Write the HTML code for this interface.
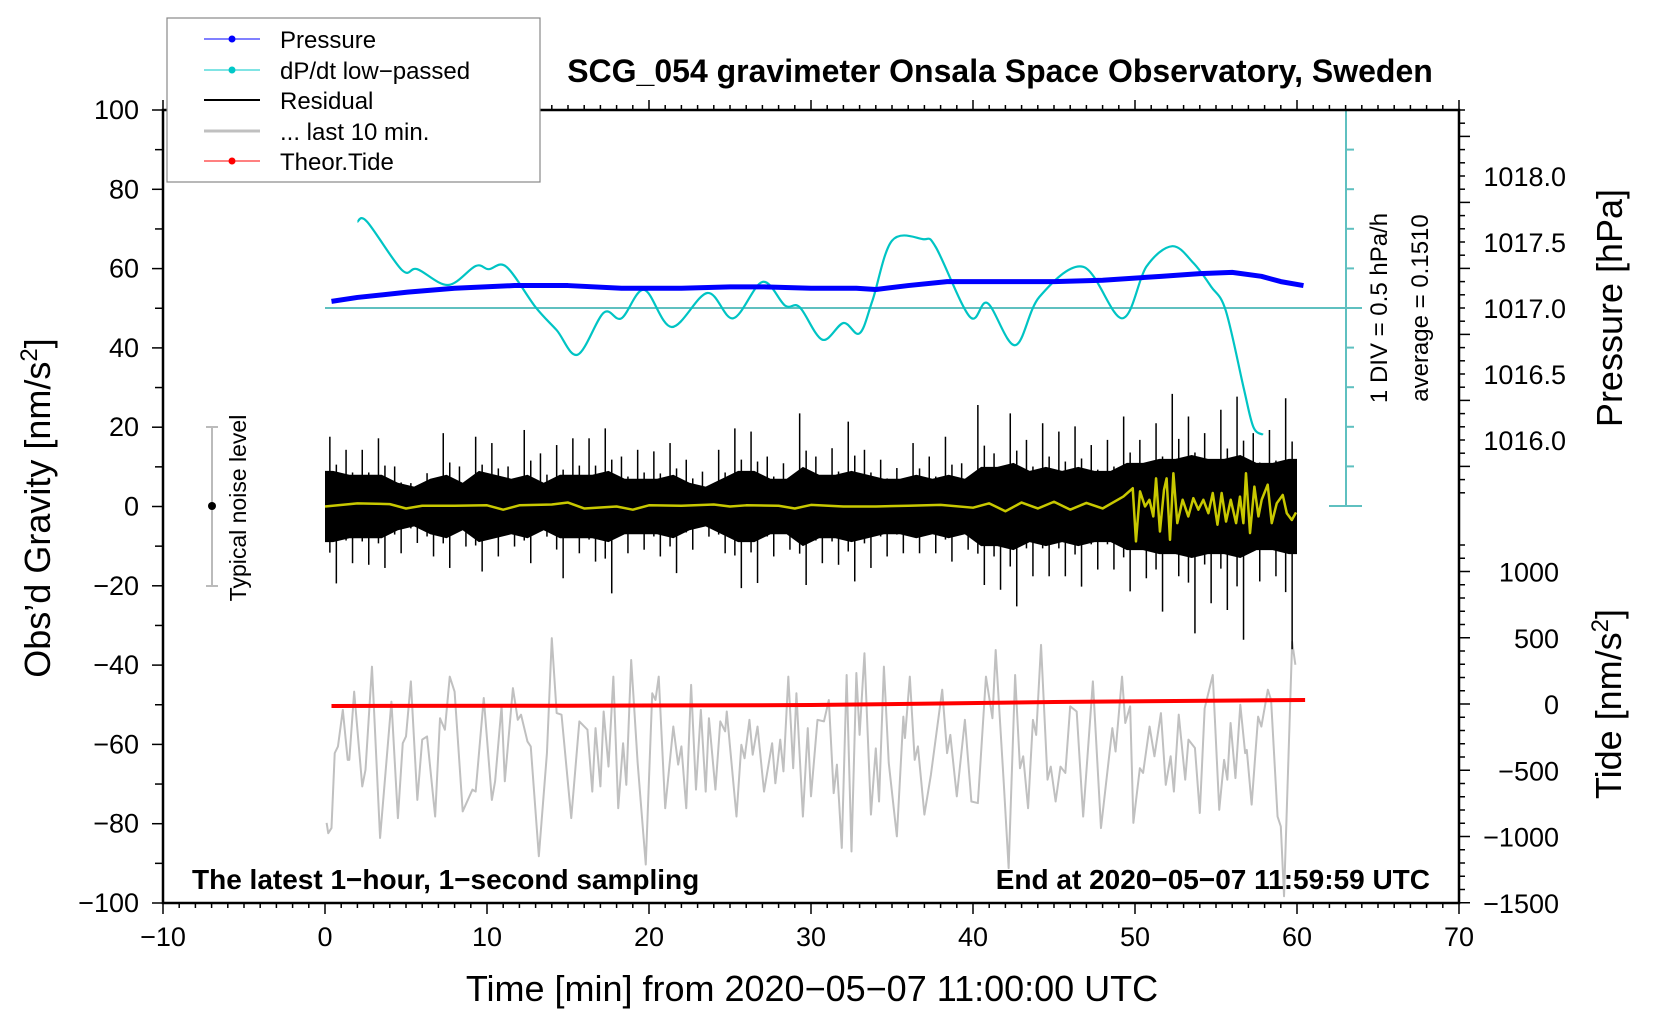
<!DOCTYPE html>
<html><head><meta charset="utf-8"><style>
html,body{margin:0;padding:0;background:#fff;}
svg{display:block;font-family:"Liberation Sans",Arial,sans-serif;}
</style></head><body>
<svg id="chart" width="1660" height="1020" viewBox="0 0 1660 1020" xmlns="http://www.w3.org/2000/svg">
<rect x="0" y="0" width="1660" height="1020" fill="#fff"/>
<g id="plot"></g>
<g id="axes"></g>
<text x="1000" y="82" text-anchor="middle" font-size="32" font-weight="bold">SCG_054 gravimeter Onsala Space Observatory, Sweden</text>
<text x="192" y="889" font-size="28" font-weight="bold">The latest 1−hour, 1−second sampling</text>
<text x="1430" y="889" text-anchor="end" font-size="28" font-weight="bold">End at 2020−05−07 11:59:59 UTC</text>
<text transform="translate(50,508) rotate(-90)" text-anchor="middle" font-size="36">Obs’d Gravity [nm/s<tspan font-size="24" dy="-13">2</tspan><tspan dy="13">]</tspan></text>
<text x="812" y="1001" text-anchor="middle" font-size="36">Time [min] from 2020−05−07 11:00:00 UTC</text>
<text transform="translate(1622,308) rotate(-90)" text-anchor="middle" font-size="36">Pressure [hPa]</text>
<text transform="translate(1621,704) rotate(-90)" text-anchor="middle" font-size="36">Tide [nm/s<tspan font-size="24" dy="-13">2</tspan><tspan dy="13">]</tspan></text>
<text transform="translate(1387,308) rotate(-90)" text-anchor="middle" font-size="24">1 DIV = 0.5 hPa/h</text>
<text transform="translate(1428,308) rotate(-90)" text-anchor="middle" font-size="24">average = 0.1510</text>
<g>
<line x1="212" y1="427" x2="212" y2="586" stroke="#bbb" stroke-width="2"/>
<line x1="206" y1="427" x2="218" y2="427" stroke="#bbb" stroke-width="2"/>
<line x1="206" y1="586" x2="218" y2="586" stroke="#bbb" stroke-width="2"/>
<circle cx="212" cy="506" r="4" fill="#000"/>
<text transform="translate(246,508) rotate(-90)" text-anchor="middle" font-size="23">Typical noise level</text>
</g>
<g>
<rect x="167" y="18" width="373" height="164" fill="#fff" stroke="#888" stroke-width="1.2"/>
<g><line x1="204" y1="39" x2="260" y2="39" stroke="#0000ff" stroke-width="1"/><circle cx="232" cy="39" r="3.5" fill="#0000ff"/><text x="280" y="48" font-size="24">Pressure</text></g>
<g><line x1="204" y1="70" x2="260" y2="70" stroke="#00c8c8" stroke-width="1"/><circle cx="232" cy="70" r="3.5" fill="#00c8c8"/><text x="280" y="79" font-size="24">dP/dt low−passed</text></g>
<g><line x1="204" y1="100" x2="260" y2="100" stroke="#000" stroke-width="2"/><text x="280" y="109" font-size="24">Residual</text></g>
<g><line x1="204" y1="131" x2="260" y2="131" stroke="#c0c0c0" stroke-width="3"/><text x="280" y="140" font-size="24">... last 10 min.</text></g>
<g><line x1="204" y1="161" x2="260" y2="161" stroke="#ff0000" stroke-width="1"/><circle cx="232" cy="161" r="3.5" fill="#ff0000"/><text x="280" y="170" font-size="24">Theor.Tide</text></g>
</g>
</svg>
<script>
// ---- data ----
const pressT = [0.4,2,5.1,8,11.7,15,18.3,22,25,27.1,30,32.8,34,36,38.4,41,45,48,51.6,54,56,57.8,59,60.4];
const pressV = [1017.05,1017.08,1017.12,1017.15,1017.17,1017.17,1017.15,1017.15,1017.16,1017.16,1017.15,1017.15,1017.14,1017.17,1017.20,1017.20,1017.20,1017.21,1017.24,1017.26,1017.27,1017.24,1017.20,1017.17];
const dpdtT = [2.0,2.6,4.75,5.7,7.6,9.3,10.1,11.2,13.0,14.3,15.6,17.2,18.3,19.7,21.4,23.6,25.2,27.0,28.4,29.3,30.7,32.0,33.0,33.8,35.0,36.9,37.7,39.8,40.9,42.6,44.1,46.8,49.2,50.7,52.3,53.6,54.7,55.6,56.7,57.3,57.9];
const dpdtV = [1.09,1.09,0.48,0.49,0.29,0.53,0.49,0.52,0.01,-0.28,-0.59,-0.06,-0.13,0.23,-0.24,0.19,-0.13,0.33,0.03,0.01,-0.40,-0.19,-0.32,0.10,0.85,0.87,0.77,-0.11,0.06,-0.47,0.14,0.52,-0.13,0.52,0.78,0.57,0.27,-0.03,-1.0,-1.5,-1.6];
const resMax = [17.6,14.3,14.3,17.2,10.1,5.9,8.4,18.5,10.1,17.6,16.0,10.1,19.3,13.4,15.5,17.2,17.2,19.7,12.6,14.3,13.9,16.0,11.8,8.8,14.3,19.7,18.9,12.6,10.9,23.5,12.6,14.7,21.4,14.3,11.8,9.7,16.0,12.6,17.6,10.9,25.6,13.4,23.5,16.8,21.0,18.9,20.2,15.5,16.8,22.7,16.8,21.0,28.4,22.7,18.5,24.4,27.7,18.5,19.3,27.3];
const resMin = [-19.4,-14.3,-14.7,-15.5,-11.8,-9.2,-12.6,-15.5,-10.1,-16.4,-12.6,-10.1,-14.3,-7.6,-18.1,-11.8,-13.9,-21.9,-11.8,-10.9,-12.6,-16.8,-10.9,-7.6,-11.8,-20.6,-19.3,-12.6,-10.9,-19.8,-14.3,-14.7,-18.9,-15.5,-12.6,-11.8,-11.8,-11.8,-13.9,-10.9,-19.8,-21.0,-25.2,-17.6,-17.6,-17.6,-20.2,-15.9,-15.9,-21.4,-18.1,-26.5,-17.6,-32.0,-24.4,-26.1,-33.6,-18.9,-17.6,-36.0];
const resCore = [9,8,8,8,6,5,7,8,6,9,8,7,8,6,8,8,8,9,7,7,7,8,6,5,7,9,9,7,7,10,8,8,9,8,7,7,8,7,8,7,10,10,11,9,10,9,10,9,9,11,11,12,12,13,12,12,13,11,11,12];
const lowT = [0,2,4,5,6,8,10,11,12,14,15,16,18,19,20,22,24,25,26,28,29,30,32,34,36,38,40,41,42,43,44,45,46,47,48,49.28,49.86,50.06,50.31,50.62,50.89,51.13,51.30,51.54,51.79,51.95,52.16,52.37,52.61,52.94,53.29,53.60,53.91,54.22,54.53,54.80,55.09,55.35,55.62,55.91,56.24,56.48,56.69,56.85,57.10,57.37,57.62,57.82,58.19,58.44,58.75,59.12,59.37,59.68,59.94];
const lowV = [0.0,0.8,0.6,-0.5,0.2,0.2,0.3,-0.8,0.3,0.5,1.0,-0.5,0.0,-0.8,0.3,0.2,0.5,0.0,0.3,0.2,-0.5,0.4,0.0,0.0,0.2,0.4,-0.3,0.8,-1.2,1.0,-0.5,1.2,-0.8,0.9,-0.5,2.5,4.6,-8.8,3.8,0.0,1.7,-2.5,7.1,-6.3,4.2,7.1,-8.4,8.4,-4.2,1.7,-2.5,2.1,-0.8,1.7,-1.7,3.4,-4.6,3.4,-3.8,1.7,-4.2,2.5,-4.2,8.4,-6.7,5.0,-2.5,1.7,5.5,-4.2,0.8,2.9,-1.7,-3.4,-1.5];
const last10Sec = [1,2,4,6,8,11,14,15,18,23,25,29,34,41,45,48,50,53,57,60,63,68,71,74,77,80,85,91,93,98,103,105,109,111,116,119,121,125,127,132,137,140,143,146,152,157,162,165,167,170,172,175,178,181,184,186,189,193,198,202,204,206,210,215,218,220,223,226,229,232,235,237,241,244,247,248,254,257,259,262,264,267,271,276,278,281,283,286,289,291,295,298,300,304,308,311,314,316,319,322,325,328,330,333,337,340,342,345,348,353,357,358,361,364,366,370,374,381,384,386,390,395,399,403,408,412,414,419,422,426,429,431,434,437,439,442,446,448,451,454,457,460,464,468,474,479,486,488,492,494,497,499,503,505,509,512,516,519,522,524,527,531,533,537,540,543,548,552,555,557,559,562,565,568,569,572,576,578,582,584,588,590,592,597,599];
const last10Val = [-29.8,-32.4,-31.1,-12.2,-10.5,-1.3,-13.9,-13.9,3.3,-20.6,-16.4,9.6,-33.6,0.8,-28.6,-9.7,-8.0,5.9,-24.0,-8.8,-8.0,-28.2,-3.4,-6.3,7.1,3.3,-26.9,-21.4,-21.9,1.7,-24.0,-19.3,-0.3,-19.3,4.2,-3.8,-2.5,-9.3,-10.5,-38.2,-12.2,16.8,-2.1,-2.5,-28.6,-4.2,-6.3,-21.9,-5.9,-20.6,-1.7,-15.6,7.1,-26.1,-9.7,-20.2,11.3,-14.7,-40.3,2.9,1.2,7.1,-26.1,-5.5,-15.1,-10.5,-26.1,5.0,-21.4,-1.3,-21.9,-3.4,-21.4,-4.2,-6.7,-1.7,-28.2,-10.1,-13.5,-3.8,-12.6,-5.5,-21.9,-9.7,-19.8,-8.8,-16.8,7.1,-16.0,2.9,-28.2,-5.9,-23.1,-3.8,-4.2,1.2,-22.3,-15.1,-36.1,7.5,-37.0,8.0,-7.6,13.0,-27.7,-11.0,-24.4,9.6,-14.7,-33.2,-3.0,-8.4,7.1,-13.9,-10.5,-27.7,-17.7,3.8,-12.2,-7.6,-23.1,-3.8,-24.4,-24.8,7.1,-3.4,13.8,-19.8,-41.2,7.5,-16.0,-13.0,-26.1,-3.8,-7.6,15.1,-18.9,-15.6,-24.4,-15.6,-17.2,-0.4,-1.7,-28.2,5.9,-31.1,-5.9,-11.8,7.1,-4.6,-0.4,-29.8,-16.0,-17.2,-5.5,-13.0,-2.1,-20.2,-13.0,-21.9,-2.5,-18.9,-8.8,-10.9,-27.3,-0.9,7.5,-26.5,-13.9,-18.9,-4.6,-18.5,0.0,-12.2,-11.4,-25.2,-3.0,-5.5,3.8,1.2,-28.2,-30.7,-48.3,15.9,10.1];
const tideT = [0.4,15,30,45,60.5];
const tideV = [-15,-13,-8,15,30];
const xTicks = [-10,0,10,20,30,40,50,60,70];
const gTicks = [-100,-80,-60,-40,-20,0,20,40,60,80,100];
const pTicks = [1016.0,1016.5,1017.0,1017.5,1018.0];
const tideTicks = [-1500,-1000,-500,0,500,1000];

// ---- scales ----
const X = t => 325 + t*16.2;
const Yg = g => 506.5 - g*3.965;
const Yp = p => 308 - (p-1017)*132;
const Yd = d => 308 - d/0.5*39.6;
const Yt = v => 704 - v*0.1325;
const NS = 'http://www.w3.org/2000/svg';
const plotG = document.getElementById('plot');
const axesG = document.getElementById('axes');
function mk(tag, parent, attrs){const e=document.createElementNS(NS,tag);for(const k in attrs)e.setAttribute(k,attrs[k]);parent.appendChild(e);return e;}
function smooth(pts){let d='M'+pts[0][0]+','+pts[0][1];for(let i=0;i<pts.length-1;i++){const p0=pts[Math.max(0,i-1)],p1=pts[i],p2=pts[i+1],p3=pts[Math.min(pts.length-1,i+2)];const c1x=p1[0]+(p2[0]-p0[0])/6,c1y=p1[1]+(p2[1]-p0[1])/6,c2x=p2[0]-(p3[0]-p1[0])/6,c2y=p2[1]-(p3[1]-p1[1])/6;d+=' C'+c1x.toFixed(1)+','+c1y.toFixed(1)+' '+c2x.toFixed(1)+','+c2y.toFixed(1)+' '+p2[0].toFixed(1)+','+p2[1].toFixed(1);}return d;}

function draw(){
  const plot = plotG, axes = axesG;
  let pts = last10Sec.map((s,i)=>[X(s/10), Yg(last10Val[i]-50)]);
  let el = mk('polyline', plot, {points: pts.map(p=>p.join(',')).join(' '), fill:'none', stroke:'#c0c0c0', 'stroke-width':2, 'stroke-linejoin':'round'});
  
  

  const bandTop = resCore.map((c,i)=>X(i+0.5)+','+Yg(c));
  const bandBot = resCore.map((c,i)=>X(i+0.5)+','+Yg(-c)).reverse();
  el = mk('polygon', plot, {points: [X(0)+','+Yg(resCore[0]), ...bandTop, X(60)+','+Yg(resCore[59]), X(60)+','+Yg(-resCore[59]), ...bandBot, X(0)+','+Yg(-resCore[0])].join(' '), fill:'#000'});
  
  
  resMax.forEach((m,i)=>{
    const s = mk('line', plot, {x1:X(i+0.3), x2:X(i+0.3), y1:Yg(m), y2:Yg(resMin[i]*0.6), stroke:'#000', 'stroke-width':1.5});
    
    
    const s2 = mk('line', plot, {x1:X(i+0.7), x2:X(i+0.7), y1:Yg(m*0.6), y2:Yg(resMin[i]), stroke:'#000', 'stroke-width':1.5});
    
    
  });
  pts = lowT.map((t,i)=>[X(t), Yg(lowV[i])]);
  el = mk('polyline', plot, {points: pts.map(p=>p.join(',')).join(' '), fill:'none', stroke:'#c8c800', 'stroke-width':2.5, 'stroke-linejoin':'round'});
  
  

  pts = tideT.map((t,i)=>[X(t), Yt(tideV[i])]);
  el = mk('polyline', plot, {points: pts.map(p=>p.join(',')).join(' '), fill:'none', stroke:'#ff0000', 'stroke-width':4});
  
  

  el = mk('line', plot, {x1:X(0), x2:1362, y1:Yd(0), y2:Yd(0), stroke:'#5fc0c0', 'stroke-width':2});
  
  
  el = mk('line', plot, {x1:1346, x2:1346, y1:Yd(2.5), y2:Yd(-2.5), stroke:'#5fc0c0', 'stroke-width':2});
  
  
  for(let k=-5;k<=5;k++){
    const big = (k===5||k===-5);
    const tk = mk('line', plot, {x1: big?1329:1346, x2: big?1362:1354, y1:Yd(k*0.5), y2:Yd(k*0.5), stroke:'#5fc0c0', 'stroke-width':2});
    
    
  }
  pts = dpdtT.map((t,i)=>[X(t), Yd(dpdtV[i])]);
  el = mk('path', plot, {d: smooth(pts), fill:'none', stroke:'#00c4c4', 'stroke-width':2.2});
  
  

  pts = pressT.map((t,i)=>[X(t), Yp(pressV[i])]);
  el = mk('polyline', plot, {points: pts.map(p=>p.join(',')).join(' '), fill:'none', stroke:'#0000ff', 'stroke-width':5, 'stroke-linejoin':'round'});
  
  

  el = mk('rect', axes, {x:163, y:110, width:1296, height:793, fill:'none', stroke:'#000', 'stroke-width':2.5});
  
  
  for(let t=-10;t<=70;t++){
    const major = t%10===0;
    const b = mk('line', axes, {x1:X(t), x2:X(t), y1:903, y2: major?914:908, stroke:'#000', 'stroke-width':1.5});
    
    
    const u = mk('line', axes, {x1:X(t), x2:X(t), y1:110, y2: major?100:105, stroke:'#000', 'stroke-width':1.5});
    
    
  }
  xTicks.forEach(t=>{
    const tx = mk('text', axes, {x:X(t), y:946, 'text-anchor':'middle', 'font-size':27});
    tx.textContent = String(t).replace('-', '−');
    
    
  });
  for(let g=-100; g<=100; g+=10){
    const major = g%20===0;
    const tk = mk('line', axes, {x1: major?152:155, x2:163, y1:Yg(g), y2:Yg(g), stroke:'#000', 'stroke-width':1.5});
    
    
  }
  gTicks.forEach(g=>{
    const tx = mk('text', axes, {x:139, y:Yg(g)+9, 'text-anchor':'end', 'font-size':27});
    tx.textContent = String(g).replace('-', '−');
    
    
  });
  for(let k=0;k<=30;k++){
    const p = 1015.6 + k*0.1;
    const y = Yp(p);
    if (y < 110 || y > 506) continue;
    const major = (k%5===2);
    const tk = mk('line', axes, {x1:1459, x2: major?1470:1465, y1:y, y2:y, stroke:'#000', 'stroke-width':1.5});
    
    
  }
  pTicks.forEach(p=>{
    const tx = mk('text', axes, {x:1566, y:Yp(p)+10, 'text-anchor':'end', 'font-size':27});
    tx.textContent = p.toFixed(1);
    
    
  });
  for(let v=-1500; v<=1200; v+=100){
    const y = Yt(v);
    if (y < 506 || y > 903) continue;
    const major = v%500===0;
    const tk = mk('line', axes, {x1:1459, x2: major?1470:1465, y1:y, y2:y, stroke:'#000', 'stroke-width':1.5});
    
    
  }
  tideTicks.forEach(v=>{
    const tx = mk('text', axes, {x:1559, y:Yt(v)+10, 'text-anchor':'end', 'font-size':27});
    tx.textContent = String(v).replace('-', '−');
    
    
  });
}
draw();
</script>
</body></html>
